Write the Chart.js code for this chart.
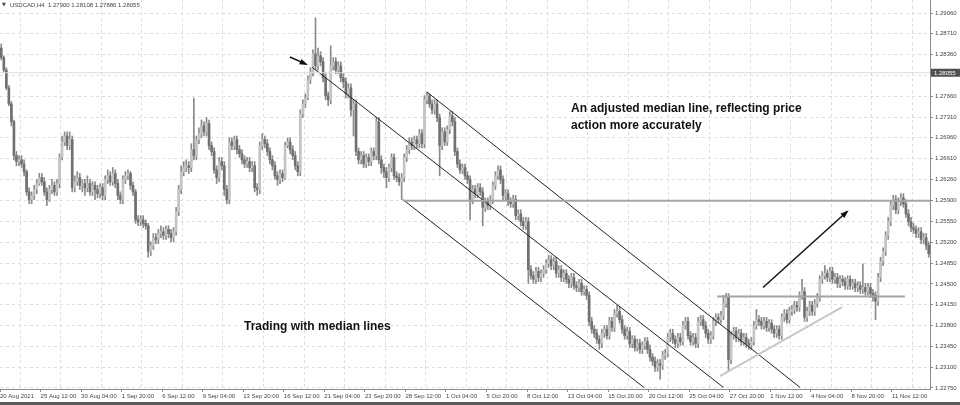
<!DOCTYPE html>
<html>
<head>
<meta charset="utf-8">
<script src="https://cdn.jsdelivr.net/npm/chart.js@4.4.1/dist/chart.umd.min.js"></script>
<style>
  html, body { margin: 0; padding: 0; background: #fff; }
  #wrap { width: 960px; height: 405px; }
</style>
</head>
<body>
<div id="wrap"><canvas id="chart" width="960" height="405"></canvas></div>
<script>
// USDCAD H4 bars, index 0 = 20 Aug 2021
const opens = [
  1.2847,1.2831,1.2810,1.2780,1.2753,1.2723,1.2666,1.2656,1.2659,1.2652,1.2639,1.2605,1.2592,1.2599,1.2609,1.2619,
  1.2629,1.2622,1.2605,1.2592,1.2609,1.2616,1.2605,1.2619,1.2663,1.2689,1.2699,1.2683,1.2693,1.2612,1.2622,1.2629,
  1.2616,1.2619,1.2612,1.2619,1.2605,1.2616,1.2609,1.2602,1.2612,1.2599,1.2626,1.2632,1.2622,1.2636,1.2619,1.2599,
  1.2592,1.2626,1.2632,1.2636,1.2616,1.2605,1.2558,1.2555,1.2558,1.2552,1.2548,1.2505,1.2515,1.2528,1.2525,1.2535,
  1.2538,1.2532,1.2542,1.2535,1.2528,1.2538,1.2572,1.2609,1.2639,1.2646,1.2649,1.2646,1.2676,1.2666,1.2693,1.2703,
  1.2716,1.2706,1.2720,1.2683,1.2673,1.2642,1.2629,1.2656,1.2649,1.2609,1.2592,1.2689,1.2683,1.2693,1.2676,1.2669,
  1.2659,1.2652,1.2656,1.2646,1.2649,1.2612,1.2609,1.2683,1.2693,1.2686,1.2673,1.2659,1.2649,1.2632,1.2626,1.2636,
  1.2629,1.2683,1.2689,1.2676,1.2666,1.2649,1.2639,1.2736,1.2753,1.2763,1.2794,1.2807,1.2837,1.2817,1.2834,1.2824,
  1.2797,1.2767,1.2760,1.2817,1.2824,1.2810,1.2817,1.2797,1.2790,1.2770,1.2780,1.2743,1.2753,1.2673,1.2659,1.2666,
  1.2652,1.2663,1.2656,1.2673,1.2666,1.2723,1.2659,1.2646,1.2639,1.2629,1.2646,1.2663,1.2632,1.2629,1.2622,1.2629,
  1.2663,1.2676,1.2689,1.2683,1.2693,1.2686,1.2703,1.2686,1.2760,1.2767,1.2753,1.2743,1.2753,1.2730,1.2683,1.2706,
  1.2689,1.2710,1.2733,1.2723,1.2673,1.2652,1.2642,1.2646,1.2632,1.2626,1.2592,1.2609,1.2602,1.2612,1.2605,1.2579,
  1.2589,1.2582,1.2592,1.2616,1.2632,1.2642,1.2626,1.2599,1.2602,1.2589,1.2585,1.2592,1.2565,1.2568,1.2555,1.2548,
  1.2555,1.2474,1.2464,1.2458,1.2471,1.2461,1.2468,1.2474,1.2484,1.2491,1.2481,1.2488,1.2468,1.2474,1.2461,1.2468,
  1.2458,1.2451,1.2461,1.2447,1.2444,1.2451,1.2437,1.2441,1.2431,1.2387,1.2374,1.2367,1.2357,1.2350,1.2367,1.2374,
  1.2363,1.2387,1.2377,1.2400,1.2404,1.2390,1.2374,1.2363,1.2370,1.2350,1.2357,1.2343,1.2350,1.2340,1.2347,1.2353,
  1.2340,1.2327,1.2320,1.2310,1.2316,1.2313,1.2330,1.2333,1.2360,1.2367,1.2357,1.2350,1.2360,1.2353,1.2380,1.2387,
  1.2363,1.2353,1.2360,1.2350,1.2387,1.2390,1.2380,1.2367,1.2357,1.2363,1.2387,1.2394,1.2390,1.2397,1.2417,1.2427,
  1.2323,1.2363,1.2370,1.2360,1.2367,1.2353,1.2360,1.2350,1.2347,1.2353,1.2380,1.2390,1.2387,1.2380,1.2387,1.2377,
  1.2384,1.2374,1.2367,1.2374,1.2363,1.2394,1.2400,1.2390,1.2404,1.2407,1.2414,1.2411,1.2431,1.2437,1.2394,1.2404,
  1.2414,1.2404,1.2417,1.2427,1.2458,1.2464,1.2468,1.2461,1.2471,1.2458,1.2461,1.2451,1.2458,1.2454,1.2447,1.2458,
  1.2447,1.2451,1.2444,1.2447,1.2441,1.2444,1.2437,1.2444,1.2434,1.2431,1.2421,1.2461,1.2488,1.2505,1.2532,1.2555,
  1.2582,1.2592,1.2575,1.2589,1.2595,1.2585,1.2568,1.2555,1.2545,1.2542,1.2535,1.2538,1.2525,1.2528,1.2515
];
const highs = [
  1.2854,1.2834,1.2814,1.2784,1.2757,1.2726,1.2673,1.2666,1.2666,1.2659,1.2642,1.2612,1.2605,1.2616,1.2626,1.2636,
  1.2636,1.2629,1.2612,1.2616,1.2626,1.2622,1.2626,1.2669,1.2699,1.2706,1.2706,1.2706,1.2699,1.2632,1.2639,1.2636,
  1.2626,1.2626,1.2632,1.2626,1.2622,1.2622,1.2616,1.2619,1.2619,1.2632,1.2642,1.2639,1.2646,1.2642,1.2626,1.2605,
  1.2632,1.2639,1.2642,1.2639,1.2622,1.2609,1.2565,1.2565,1.2565,1.2558,1.2552,1.2521,1.2535,1.2535,1.2542,1.2548,
  1.2545,1.2548,1.2548,1.2542,1.2545,1.2579,1.2616,1.2649,1.2656,1.2659,1.2656,1.2686,1.2763,1.2699,1.2713,1.2726,
  1.2723,1.2730,1.2726,1.2689,1.2679,1.2649,1.2663,1.2663,1.2656,1.2616,1.2696,1.2696,1.2699,1.2699,1.2683,1.2676,
  1.2666,1.2663,1.2663,1.2656,1.2656,1.2619,1.2689,1.2703,1.2699,1.2693,1.2679,1.2666,1.2656,1.2639,1.2642,1.2642,
  1.2689,1.2696,1.2696,1.2683,1.2673,1.2656,1.2743,1.2760,1.2770,1.2800,1.2814,1.2844,1.2898,1.2847,1.2841,1.2831,
  1.2804,1.2773,1.2851,1.2831,1.2831,1.2824,1.2824,1.2804,1.2797,1.2787,1.2787,1.2760,1.2760,1.2679,1.2673,1.2673,
  1.2669,1.2669,1.2679,1.2679,1.2730,1.2730,1.2666,1.2652,1.2646,1.2652,1.2669,1.2669,1.2639,1.2636,1.2636,1.2669,
  1.2683,1.2696,1.2696,1.2699,1.2699,1.2710,1.2710,1.2767,1.2773,1.2770,1.2760,1.2760,1.2760,1.2736,1.2713,1.2713,
  1.2716,1.2740,1.2740,1.2730,1.2679,1.2659,1.2652,1.2652,1.2639,1.2632,1.2616,1.2616,1.2619,1.2619,1.2612,1.2595,
  1.2595,1.2599,1.2622,1.2639,1.2649,1.2649,1.2632,1.2609,1.2609,1.2595,1.2599,1.2599,1.2575,1.2575,1.2562,1.2562,
  1.2562,1.2481,1.2471,1.2478,1.2478,1.2474,1.2481,1.2491,1.2498,1.2498,1.2495,1.2495,1.2481,1.2481,1.2474,1.2474,
  1.2464,1.2468,1.2468,1.2454,1.2458,1.2458,1.2447,1.2447,1.2437,1.2394,1.2380,1.2374,1.2363,1.2374,1.2380,1.2380,
  1.2394,1.2394,1.2407,1.2414,1.2411,1.2397,1.2380,1.2377,1.2377,1.2363,1.2363,1.2357,1.2357,1.2353,1.2360,1.2360,
  1.2347,1.2333,1.2327,1.2323,1.2323,1.2337,1.2340,1.2367,1.2374,1.2374,1.2363,1.2367,1.2367,1.2387,1.2394,1.2394,
  1.2370,1.2367,1.2367,1.2394,1.2397,1.2397,1.2387,1.2374,1.2370,1.2394,1.2400,1.2400,1.2404,1.2431,1.2434,1.2434,
  1.2370,1.2377,1.2377,1.2374,1.2374,1.2367,1.2367,1.2357,1.2360,1.2387,1.2407,1.2397,1.2394,1.2394,1.2394,1.2390,
  1.2390,1.2380,1.2380,1.2380,1.2400,1.2407,1.2407,1.2411,1.2414,1.2421,1.2421,1.2437,1.2458,1.2444,1.2411,1.2421,
  1.2421,1.2424,1.2434,1.2464,1.2471,1.2481,1.2474,1.2478,1.2478,1.2468,1.2468,1.2464,1.2464,1.2461,1.2464,1.2464,
  1.2458,1.2458,1.2454,1.2454,1.2484,1.2451,1.2451,1.2451,1.2441,1.2437,1.2468,1.2495,1.2511,1.2538,1.2562,1.2589,
  1.2599,1.2599,1.2595,1.2602,1.2602,1.2592,1.2575,1.2562,1.2552,1.2548,1.2545,1.2545,1.2535,1.2535,1.2521
];
const lows = [
  1.2827,1.2807,1.2777,1.2750,1.2716,1.2659,1.2649,1.2649,1.2646,1.2632,1.2599,1.2585,1.2585,1.2592,1.2602,1.2616,
  1.2616,1.2599,1.2582,1.2589,1.2602,1.2599,1.2599,1.2612,1.2659,1.2683,1.2676,1.2676,1.2605,1.2605,1.2616,1.2609,
  1.2605,1.2599,1.2605,1.2599,1.2599,1.2592,1.2595,1.2595,1.2592,1.2592,1.2619,1.2616,1.2616,1.2612,1.2592,1.2585,
  1.2585,1.2619,1.2626,1.2609,1.2599,1.2552,1.2548,1.2548,1.2545,1.2542,1.2495,1.2498,1.2508,1.2518,1.2518,1.2528,
  1.2525,1.2525,1.2528,1.2521,1.2521,1.2532,1.2565,1.2602,1.2632,1.2639,1.2636,1.2639,1.2659,1.2659,1.2686,1.2696,
  1.2699,1.2699,1.2676,1.2666,1.2636,1.2619,1.2622,1.2642,1.2599,1.2585,1.2585,1.2676,1.2676,1.2669,1.2663,1.2652,
  1.2646,1.2646,1.2639,1.2639,1.2605,1.2599,1.2602,1.2676,1.2679,1.2666,1.2652,1.2642,1.2626,1.2616,1.2619,1.2622,
  1.2626,1.2679,1.2669,1.2659,1.2642,1.2632,1.2632,1.2730,1.2747,1.2760,1.2787,1.2800,1.2810,1.2810,1.2817,1.2790,
  1.2760,1.2750,1.2753,1.2810,1.2804,1.2804,1.2790,1.2780,1.2763,1.2763,1.2733,1.2699,1.2666,1.2652,1.2652,1.2646,
  1.2646,1.2649,1.2649,1.2659,1.2659,1.2652,1.2636,1.2629,1.2612,1.2622,1.2639,1.2626,1.2622,1.2616,1.2592,1.2622,
  1.2656,1.2669,1.2676,1.2676,1.2679,1.2679,1.2679,1.2679,1.2753,1.2747,1.2736,1.2736,1.2723,1.2632,1.2676,1.2683,
  1.2683,1.2703,1.2716,1.2666,1.2646,1.2636,1.2636,1.2626,1.2619,1.2558,1.2585,1.2595,1.2595,1.2599,1.2548,1.2572,
  1.2575,1.2575,1.2585,1.2609,1.2626,1.2619,1.2592,1.2592,1.2582,1.2579,1.2579,1.2558,1.2558,1.2548,1.2542,1.2542,
  1.2451,1.2458,1.2451,1.2451,1.2454,1.2454,1.2461,1.2468,1.2478,1.2474,1.2474,1.2461,1.2461,1.2454,1.2454,1.2451,
  1.2444,1.2444,1.2441,1.2437,1.2437,1.2431,1.2431,1.2424,1.2380,1.2367,1.2360,1.2350,1.2340,1.2343,1.2360,1.2357,
  1.2357,1.2370,1.2370,1.2394,1.2384,1.2367,1.2357,1.2357,1.2343,1.2343,1.2337,1.2337,1.2333,1.2333,1.2340,1.2333,
  1.2320,1.2313,1.2303,1.2303,1.2290,1.2306,1.2323,1.2327,1.2353,1.2350,1.2343,1.2343,1.2347,1.2347,1.2374,1.2357,
  1.2347,1.2347,1.2343,1.2343,1.2380,1.2374,1.2360,1.2350,1.2350,1.2357,1.2380,1.2384,1.2384,1.2390,1.2411,1.2303,
  1.2316,1.2357,1.2353,1.2353,1.2347,1.2347,1.2343,1.2340,1.2340,1.2347,1.2374,1.2380,1.2374,1.2374,1.2370,1.2370,
  1.2367,1.2360,1.2360,1.2357,1.2357,1.2387,1.2384,1.2384,1.2397,1.2400,1.2404,1.2404,1.2424,1.2387,1.2387,1.2397,
  1.2397,1.2397,1.2411,1.2421,1.2451,1.2458,1.2454,1.2454,1.2451,1.2451,1.2444,1.2444,1.2447,1.2441,1.2441,1.2441,
  1.2441,1.2437,1.2437,1.2434,1.2434,1.2431,1.2431,1.2427,1.2421,1.2390,1.2414,1.2454,1.2481,1.2498,1.2525,1.2548,
  1.2575,1.2568,1.2568,1.2582,1.2579,1.2562,1.2548,1.2538,1.2535,1.2528,1.2528,1.2518,1.2518,1.2508,1.2495
];
const closes = [
  1.2831,1.2810,1.2780,1.2753,1.2723,1.2666,1.2656,1.2659,1.2652,1.2639,1.2605,1.2592,1.2599,1.2609,1.2619,1.2629,
  1.2622,1.2605,1.2592,1.2609,1.2616,1.2605,1.2619,1.2663,1.2689,1.2699,1.2683,1.2693,1.2612,1.2622,1.2629,1.2616,
  1.2619,1.2612,1.2619,1.2605,1.2616,1.2609,1.2602,1.2612,1.2599,1.2626,1.2632,1.2622,1.2636,1.2619,1.2599,1.2592,
  1.2626,1.2632,1.2636,1.2616,1.2605,1.2558,1.2555,1.2558,1.2552,1.2548,1.2505,1.2515,1.2528,1.2525,1.2535,1.2538,
  1.2532,1.2542,1.2535,1.2528,1.2538,1.2572,1.2609,1.2639,1.2646,1.2649,1.2646,1.2676,1.2666,1.2693,1.2703,1.2716,
  1.2706,1.2720,1.2683,1.2673,1.2642,1.2629,1.2656,1.2649,1.2609,1.2592,1.2689,1.2683,1.2693,1.2676,1.2669,1.2659,
  1.2652,1.2656,1.2646,1.2649,1.2612,1.2609,1.2683,1.2693,1.2686,1.2673,1.2659,1.2649,1.2632,1.2626,1.2636,1.2629,
  1.2683,1.2689,1.2676,1.2666,1.2649,1.2639,1.2736,1.2753,1.2763,1.2794,1.2807,1.2837,1.2817,1.2834,1.2824,1.2797,
  1.2767,1.2760,1.2817,1.2824,1.2810,1.2817,1.2797,1.2790,1.2770,1.2780,1.2743,1.2753,1.2673,1.2659,1.2666,1.2652,
  1.2663,1.2656,1.2673,1.2666,1.2723,1.2659,1.2646,1.2639,1.2629,1.2646,1.2663,1.2632,1.2629,1.2622,1.2629,1.2663,
  1.2676,1.2689,1.2683,1.2693,1.2686,1.2703,1.2686,1.2760,1.2767,1.2753,1.2743,1.2753,1.2730,1.2683,1.2706,1.2689,
  1.2710,1.2733,1.2723,1.2673,1.2652,1.2642,1.2646,1.2632,1.2626,1.2592,1.2609,1.2602,1.2612,1.2605,1.2579,1.2589,
  1.2582,1.2592,1.2616,1.2632,1.2642,1.2626,1.2599,1.2602,1.2589,1.2585,1.2592,1.2565,1.2568,1.2555,1.2548,1.2555,
  1.2474,1.2464,1.2458,1.2471,1.2461,1.2468,1.2474,1.2484,1.2491,1.2481,1.2488,1.2468,1.2474,1.2461,1.2468,1.2458,
  1.2451,1.2461,1.2447,1.2444,1.2451,1.2437,1.2441,1.2431,1.2387,1.2374,1.2367,1.2357,1.2350,1.2367,1.2374,1.2363,
  1.2387,1.2377,1.2400,1.2404,1.2390,1.2374,1.2363,1.2370,1.2350,1.2357,1.2343,1.2350,1.2340,1.2347,1.2353,1.2340,
  1.2327,1.2320,1.2310,1.2316,1.2313,1.2330,1.2333,1.2360,1.2367,1.2357,1.2350,1.2360,1.2353,1.2380,1.2387,1.2363,
  1.2353,1.2360,1.2350,1.2387,1.2390,1.2380,1.2367,1.2357,1.2363,1.2387,1.2394,1.2390,1.2397,1.2417,1.2427,1.2323,
  1.2363,1.2370,1.2360,1.2367,1.2353,1.2360,1.2350,1.2347,1.2353,1.2380,1.2390,1.2387,1.2380,1.2387,1.2377,1.2384,
  1.2374,1.2367,1.2374,1.2363,1.2394,1.2400,1.2390,1.2404,1.2407,1.2414,1.2411,1.2431,1.2437,1.2394,1.2404,1.2414,
  1.2404,1.2417,1.2427,1.2458,1.2464,1.2468,1.2461,1.2471,1.2458,1.2461,1.2451,1.2458,1.2454,1.2447,1.2458,1.2447,
  1.2451,1.2444,1.2447,1.2441,1.2444,1.2437,1.2444,1.2434,1.2431,1.2421,1.2461,1.2488,1.2505,1.2532,1.2555,1.2582,
  1.2592,1.2575,1.2589,1.2595,1.2585,1.2568,1.2555,1.2545,1.2542,1.2535,1.2538,1.2525,1.2528,1.2515,1.2501
];

// one date label every 16 bars
const dateLabels = [
  '20 Aug 2021', '25 Aug 12:00', '30 Aug 04:00', '1 Sep 20:00', '6 Sep 12:00', '9 Sep 04:00',
  '13 Sep 20:00', '16 Sep 12:00', '21 Sep 04:00', '23 Sep 20:00', '28 Sep 12:00', '1 Oct 04:00',
  '5 Oct 20:00', '8 Oct 12:00', '13 Oct 04:00', '15 Oct 20:00', '20 Oct 12:00', '25 Oct 04:00',
  '27 Oct 20:00', '1 Nov 12:00', '4 Nov 04:00', '8 Nov 20:00', '11 Nov 12:00'
];
const priceTicks = [
  1.29060, 1.28710, 1.28360, 1.28010, 1.27660, 1.27310, 1.26960, 1.26610, 1.26260, 1.25900,
  1.25550, 1.25200, 1.24850, 1.24500, 1.24150, 1.23800, 1.23450, 1.23100, 1.22750
];
const lastPrice = 1.28055;
const headerText = 'USDCAD,H4  1.27900 1.28108 1.27886 1.28055';

// drawn objects, as (bar index, price)
const medianMid = [{ x: 122.6, y: 1.2815 }, { x: 285.0, y: 1.2276 }];
const medianUpper = [{ x: 168.0, y: 1.2773 }, { x: 315.2, y: 1.2276 }];
const medianLower = [{ x: 158.5, y: 1.2592 }, { x: 253.6, y: 1.2276 }];
const resistance = [{ x: 158.5, y: 1.2590 }, { x: 366.5, y: 1.2590 }];
const support = [{ x: 282.5, y: 1.2429 }, { x: 356.6, y: 1.2429 }];
const risingLine = [{ x: 283.6, y: 1.2295 }, { x: 331.8, y: 1.2411 }];
const upArrow = [{ x: 300.6, y: 1.2444 }, { x: 333.8, y: 1.2572 }];
const pointerArrow = [{ x: 113.9, y: 1.2832 }, { x: 120.3, y: 1.2820 }];
const bidLine = [{ x: -0.5, y: lastPrice }, { x: 366.5, y: lastPrice }];

const FONT = 'Liberation Sans';
const GRID = '#dedede';
const AXIS = '#8a8a8a';

const bodyData = opens.map((o, i) => ({ x: i, y: [o, closes[i]] }));
const wickData = highs.map((h, i) => ({ x: i, y: [lows[i], h] }));
const bodyColors = opens.map((o, i) => closes[i] >= o ? '#c4c4c4' : '#707070');

const lineSet = (data, color, width) => ({
  type: 'line', data, borderColor: color, borderWidth: width,
  pointRadius: 0, fill: false, tension: 0, order: 0
});

const isLabelTick = v => Math.abs(((v + 0.5) % 16)) < 1e-6;

const overlay = {
  id: 'overlay',
  afterDatasetsDraw(chart) {
    const { ctx, scales: { x, y } } = chart;
    [upArrow, pointerArrow].forEach(pts => {
      const a = pts[0], b = pts[1];
      const x1 = x.getPixelForValue(a.x), y1 = y.getPixelForValue(a.y);
      const x2 = x.getPixelForValue(b.x), y2 = y.getPixelForValue(b.y);
      const ang = Math.atan2(y2 - y1, x2 - x1);
      ctx.save();
      ctx.fillStyle = '#111';
      ctx.beginPath();
      ctx.moveTo(x2 + Math.cos(ang) * 2, y2 + Math.sin(ang) * 2);
      ctx.lineTo(x2 - 7 * Math.cos(ang - 0.42), y2 - 7 * Math.sin(ang - 0.42));
      ctx.lineTo(x2 - 7 * Math.cos(ang + 0.42), y2 - 7 * Math.sin(ang + 0.42));
      ctx.closePath();
      ctx.fill();
      ctx.restore();
    });
  },
  afterDraw(chart) {
    const { ctx, scales: { y } } = chart;
    ctx.save();
    // header
    ctx.fillStyle = '#444';
    ctx.textBaseline = 'middle';
    ctx.font = '5px "DejaVu Sans"';
    ctx.fillText('\u25BC', 2, 5);
    ctx.font = '6px "' + FONT + '"';
    ctx.fillText(headerText, 10, 5);

    // current price box on the axis
    const py = y.getPixelForValue(lastPrice);
    ctx.fillStyle = '#505050';
    ctx.fillRect(931, py - 4, 29, 8);
    ctx.fillStyle = '#fff';
    ctx.fillText(lastPrice.toFixed(5), 934, py + 0.5);

    // notes
    ctx.fillStyle = '#111';
    ctx.textBaseline = 'alphabetic';
    ctx.font = 'bold 12px "' + FONT + '"';
    ctx.fillText('An adjusted median line, reflecting price', 571, 112);
    ctx.fillText('action more accurately', 571, 129);
    ctx.fillText('Trading with median lines', 244, 330);

    // window edge
    ctx.fillStyle = '#5c5c5c';
    ctx.fillRect(0, 402, 960, 3);
    ctx.restore();
  }
};

new Chart(document.getElementById('chart'), {
  type: 'bar',
  data: {
    datasets: [
      lineSet(bidLine, '#cddff0', 1),
      lineSet(resistance, '#a4a4a4', 2),
      lineSet(support, '#a4a4a4', 2),
      lineSet(risingLine, '#c8c8c8', 2),
      lineSet(medianMid, '#222', 1),
      lineSet(medianUpper, '#222', 1),
      lineSet(medianLower, '#222', 1),
      lineSet(upArrow, '#111', 1.5),
      lineSet(pointerArrow, '#111', 1.5),
      { type: 'bar', data: bodyData, backgroundColor: bodyColors, barThickness: 2, grouped: false, order: 1 },
      { type: 'bar', data: wickData, backgroundColor: '#8a8a8a', barThickness: 1, grouped: false, order: 2 }
    ]
  },
  options: {
    responsive: false,
    animation: false,
    events: [],
    layout: { padding: 0 },
    plugins: { legend: { display: false }, tooltip: { enabled: false }, title: { display: false } },
    scales: {
      x: {
        type: 'linear',
        offset: false,
        min: -0.5,
        max: opens.length - 0.5,
        afterBuildTicks: s => {
          const t = [];
          dateLabels.forEach((_, k) => t.push({ value: k * 16 - 0.5 }));
          dateLabels.forEach((_, k) => t.push({ value: k * 16 + 7.5 }));
          s.ticks = t;
        },
        afterFit: s => { s.height = 16; s.paddingLeft = 0; s.paddingRight = 0; },
        ticks: {
          autoSkip: false, maxRotation: 0, minRotation: 0, align: 'start', padding: 1,
          color: '#444', font: { family: FONT, size: 6 },
          callback: v => isLabelTick(v) ? dateLabels[Math.round((v + 0.5) / 16)] : ''
        },
        grid: {
          offset: false,
          color: c => (c.tick && !isLabelTick(c.tick.value)) ? GRID : 'rgba(0,0,0,0)',
          tickColor: c => (c.tick && isLabelTick(c.tick.value)) ? AXIS : 'rgba(0,0,0,0)',
          tickLength: 3
        },
        border: { display: true, color: AXIS, dash: [3, 3] }
      },
      y: {
        position: 'right',
        min: 1.22733,
        max: 1.29279,
        afterBuildTicks: s => { s.ticks = priceTicks.map(v => ({ value: v })); },
        afterFit: s => { s.width = 30; s.paddingTop = 0; s.paddingBottom = 0; },
        ticks: {
          padding: 2, color: '#444', font: { family: FONT, size: 6 },
          callback: v => Math.abs(v - 1.2801) < 1e-7 ? '' : v.toFixed(5)
        },
        grid: { color: GRID, tickColor: AXIS, tickLength: 3 },
        border: { display: true, color: AXIS, dash: [3, 3] }
      }
    }
  },
  plugins: [overlay]
});
</script>
</body>
</html>
